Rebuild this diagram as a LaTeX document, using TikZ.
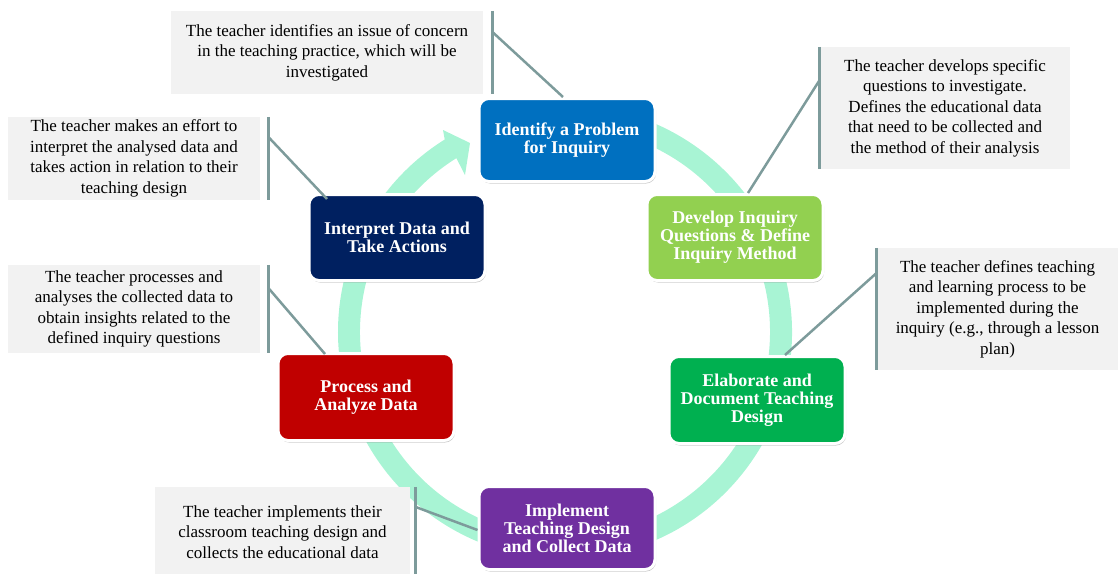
\documentclass[tikz,border=0pt]{standalone}
\usepackage{fontspec}
\setmainfont{Liberation Serif}
\usetikzlibrary{shadows,calc}
\definecolor{ringc}{RGB}{168,244,212}
\definecolor{descgray}{RGB}{242,242,242}
\definecolor{linkgray}{RGB}{125,155,155}
\definecolor{cblue}{RGB}{0,112,192}
\definecolor{clgreen}{RGB}{146,208,80}
\definecolor{cgreen}{RGB}{0,176,80}
\definecolor{cpurple}{RGB}{112,48,160}
\definecolor{cred}{RGB}{192,0,0}
\definecolor{cnavy}{RGB}{0,32,96}
\begin{document}
\begin{tikzpicture}[x=1pt,y=-1pt,
  stage/.style={rounded corners=10pt, draw=white, line width=3pt, text=white,
    font=\fontsize{18}{18}\selectfont\bfseries, align=center,
    minimum width=176pt, minimum height=83pt, inner sep=2pt,
    drop shadow={shadow xshift=1pt, shadow yshift=-2pt, opacity=0.3, fill=black!70}},
  desc/.style={fill=descgray, font=\fontsize{17}{20.5}\selectfont, align=center, inner sep=0pt},
  bar/.style={draw=linkgray, line width=3pt},
  link/.style={draw=linkgray, line width=2.5pt}]
\useasboundingbox (0,0) rectangle (1118,573);
% ring arrow
\coordinate (c) at (565,332);
\fill[ringc] ($(c)+(-100:227)$) arc[start angle=-100, end angle=238, radius=227]
  -- (443,130) -- (470,143) -- (465,175) -- ($(c)+(238:205)$)
  arc[start angle=238, end angle=-100, radius=205] -- cycle;
% description boxes
\node[desc, minimum width=312pt, minimum height=83pt] (t1) at (327,52.5)
  {The teacher identifies an issue of concern\\in the teaching practice, which will be\\investigated};
\node[desc, minimum width=250pt, minimum height=122pt] (t2) at (945,108)
  {The teacher develops specific\\questions to investigate.\\Defines the educational data\\that need to be collected and\\the method of their analysis};
\node[desc, minimum width=241pt, minimum height=122pt] (t3) at (997.5,309)
  {The teacher defines teaching\\and learning process to be\\implemented during the\\inquiry (e.g., through a lesson\\plan)};
\node[desc, minimum width=252pt, minimum height=83pt] (t4) at (134,158.5)
  {The teacher makes an effort to\\interpret the analysed data and\\takes action in relation to their\\teaching design};
\node[desc, minimum width=252pt, minimum height=88pt] (t5) at (134,309)
  {The teacher processes and\\analyses the collected data to\\obtain insights related to the\\defined inquiry questions};
\node[desc, minimum width=255pt, minimum height=90pt] (t6) at (282.5,532)
  {The teacher implements their\\classroom teaching design and\\collects the educational data};
% stage boxes
\node[stage, fill=cblue] (s1) at (567,140) {Identify a Problem\\for Inquiry};
\node[stage, fill=clgreen, minimum height=86pt] (s2) at (735,237.5) {Develop Inquiry\\Questions \& Define\\Inquiry Method};
\node[stage, fill=cgreen, minimum height=87pt] (s3) at (757,400) {Elaborate and\\Document Teaching\\Design};
\node[stage, fill=cpurple] (s4) at (567,528) {Implement\\Teaching Design\\and Collect Data};
\node[stage, fill=cred, minimum height=87pt] (s5) at (366,397) {Process and\\Analyze Data};
\node[stage, fill=cnavy, minimum height=86pt] (s6) at (397,237.5) {Interpret Data and\\Take Actions};
% bars and links
\draw[bar] ($(t1.north east)+(9,0)$) -- ($(t1.south east)+(9,0)$);
\coordinate (b1) at ($(t1.north east)+(9,21)$);
\draw[link] (b1) -- ($(s1.north)+(-4,0)$);
\draw[bar] (t2.north west) -- (t2.south west);
\coordinate (b2) at ($(t2.north west)+(0,33)$);
\draw[link] (b2) -- ($(s2.north)+(13,0)$);
\draw[bar] (t3.north west) -- (t3.south west);
\coordinate (b3) at ($(t3.north west)+(0,25)$);
\draw[link] (b3) -- ($(s3.north)+(28,0)$);
\draw[bar] ($(t4.north east)+(8,0)$) -- ($(t4.south east)+(8,0)$);
\coordinate (b4) at ($(t4.north east)+(8,20)$);
\draw[link] (b4) -- ($(s6.north)+(-70,6)$);
\draw[bar] ($(t5.north east)+(8,0)$) -- ($(t5.south east)+(8,0)$);
\coordinate (b5) at ($(t5.north east)+(8,23)$);
\draw[link] (b5) -- ($(s5.north)+(-41,2)$);
\draw[bar] ($(t6.north east)+(5,0)$) -- ($(t6.south east)+(5,0)$);
\coordinate (b6) at ($(t6.north east)+(5,20)$);
\draw[link] (b6) -- ($(s4.west)+(0,2)$);
\end{tikzpicture}
\end{document}
